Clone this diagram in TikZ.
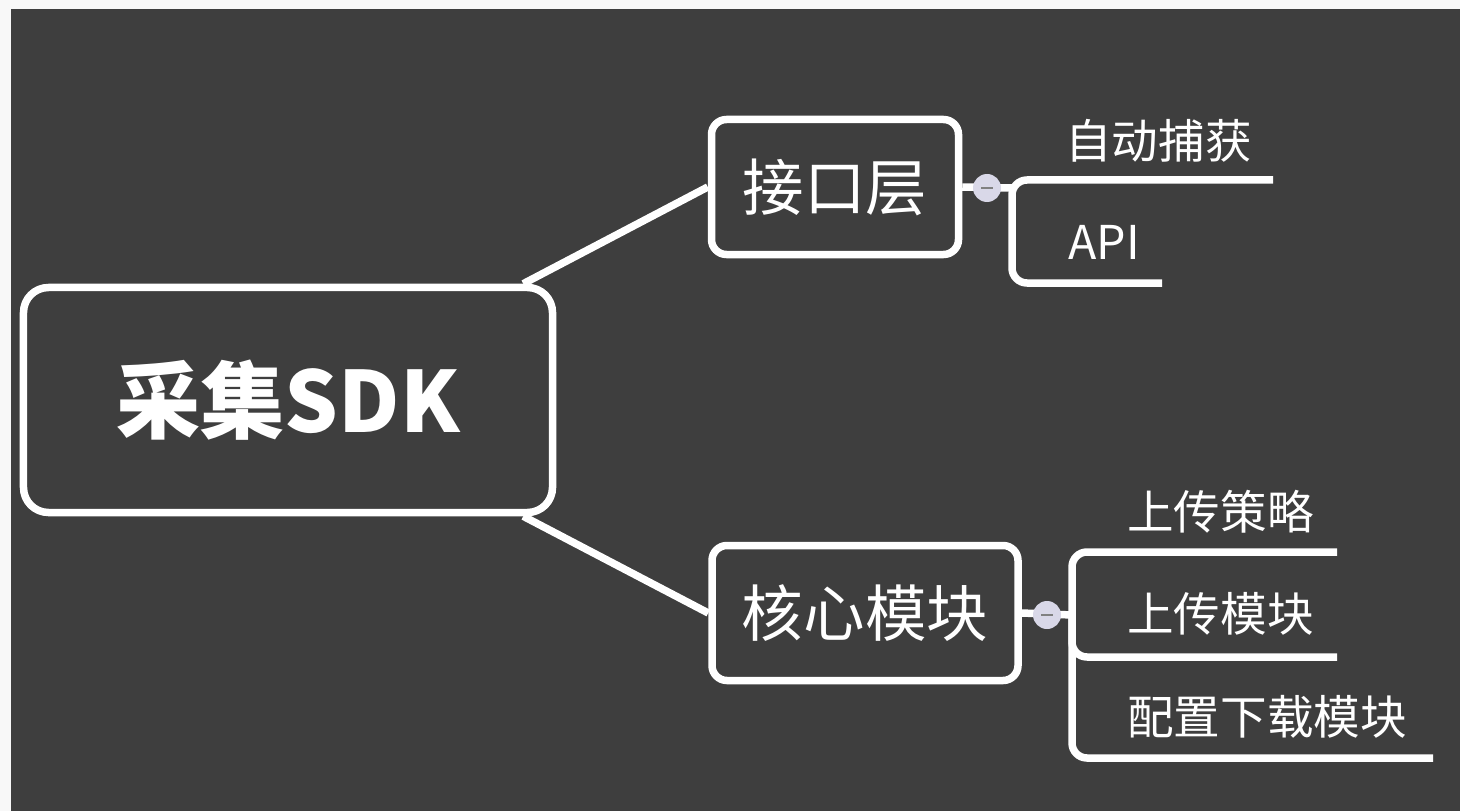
\documentclass[tikz,border=0pt]{standalone}
\usepackage{fontspec}
\setmainfont{Noto Sans CJK SC}
\definecolor{board}{HTML}{3E3E3E}
\definecolor{margin}{HTML}{F8F8F8}
\definecolor{knobfill}{HTML}{D9D8E8}
\tikzset{
  root/.style={
    minimum width=105.8mm,
    minimum height=45mm,
    draw=white, line width=1.5mm, rounded corners=5mm,
    text=white, font=\bfseries\fontsize{48}{48}\selectfont,
  },
  topic/.style={
    minimum width=#1,
    minimum height=27mm,
    draw=white, line width=1.5mm, rounded corners=3mm,
    text=white, font=\fontsize{35}{35}\selectfont,
  },
  leaf/.style={
    anchor=west, inner sep=0pt,
    text=white, font=\fontsize{26.5}{26.5}\selectfont,
  },
  link/.style={draw=white, line width=1.5mm},
  fork/.style={draw=white, line width=1.5mm, rounded corners=3mm},
  knob/.style={circle, minimum size=5.6mm, inner sep=0pt, fill=knobfill},
}

\begin{document}
\begin{tikzpicture}[x=0.2mm, y=-0.2mm]
\useasboundingbox (0,0) rectangle (1460,811);
\fill[margin] (0,0) rectangle (1460,811);
\fill[board] (11,9) rectangle (1460,811);

\node[root] (sdk) at (288,400) {采集SDK};
\node[topic=49.4mm] (iface) at (835,187) {接口层};
\node[topic=61.2mm] (core) at (865,613) {核心模块};

\draw[link] ([xshift=-6.6mm]sdk.north east) -- (iface.west);
\draw[link] ([xshift=-6.6mm]sdk.south east) -- (core.west);

% interface layer
\coordinate (iface-fork) at (1012,188);
\coordinate (capture-end) at (1273,180);
\coordinate (api-end) at (1162,283);
\node[leaf] (capture) at (1065,141) {自动捕获};
\node[leaf] (api) at (1068,242) {API};
\draw[link] (iface.east) -- (iface-fork);
\draw[fork] (capture-end) -- (capture-end -| iface-fork)
  -- (api-end -| iface-fork) -- (api-end);
\node[knob] (iface-knob) at (987,188) {\color{gray}\rule{2.4mm}{0.4mm}};

% core modules
\coordinate (core-fork) at (1072,615);
\coordinate (policy-end) at (1337,552);
\coordinate (upload-end) at (1337,657);
\coordinate (config-end) at (1433,758);
\node[leaf] (policy) at (1127,512) {上传策略};
\node[leaf] (upload) at (1127,614) {上传模块};
\node[leaf] (config) at (1127,717) {配置下载模块};
\draw[link] (core.east) -- (core-fork);
\draw[fork] (policy-end) -- (policy-end -| core-fork)
  -- (config-end -| core-fork) -- (config-end);
\draw[fork] (core-fork) -- (upload-end -| core-fork) -- (upload-end);
\node[knob] (core-knob) at (1047,615) {\color{gray}\rule{2.4mm}{0.4mm}};
\end{tikzpicture}
\end{document}
